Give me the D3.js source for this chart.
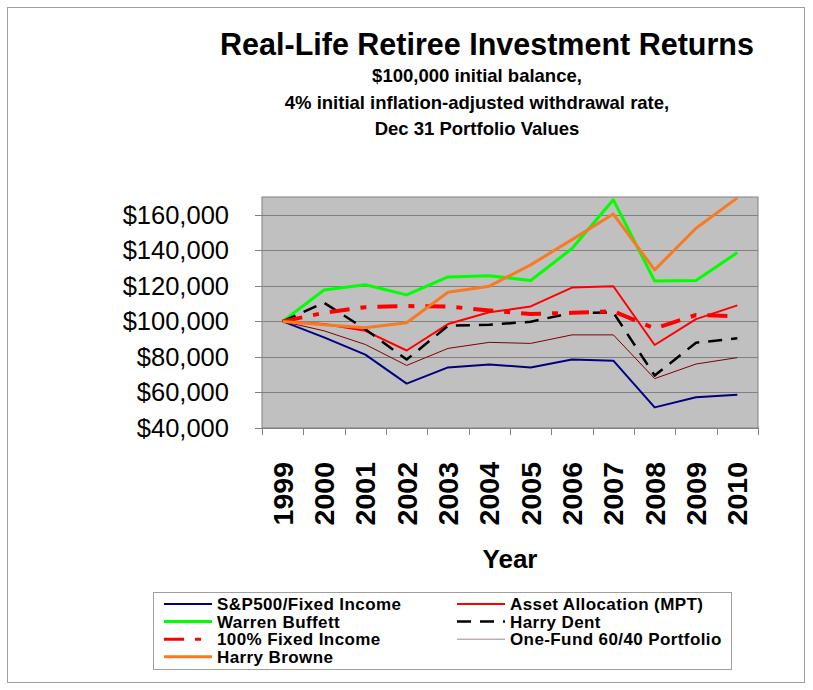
<!DOCTYPE html>
<html lang="en">

<head>
	<meta charset="UTF-8">
	<title>Real-Life Retiree Investment Returns</title>

	<style>
		body {
			margin: 0;
			background: #ffffff;
		}

		text {
			font-family: Arial, "Liberation Sans", sans-serif;
		}
	</style>

	<script src="https://d3js.org/d3.v7.min.js"></script>

</head>

<body>

	<script type="text/javascript">
		let width = 813;
		let height = 690;

		// chart data
		const years = ["1999", "2000", "2001", "2002", "2003", "2004", "2005", "2006", "2007", "2008", "2009", "2010"];
		const yTicks = [40000, 60000, 80000, 100000, 120000, 140000, 160000];

		const spFixed = [100000, 91000, 81300, 65000, 74100, 75800, 74100, 78500, 77900, 51600, 57300, 58700];
		const assetAlloc = [100000, 98500, 94700, 83600, 98500, 105100, 108400, 119000, 119800, 86700, 101300, 109000];
		const buffett = [100000, 117700, 120600, 114900, 125000, 125700, 123000, 141000, 168400, 122700, 123000, 138700];
		const dent = [100000, 110500, 95600, 78500, 97500, 98100, 99800, 104800, 105000, 69500, 88000, 90500];
		const fixedIncome = [100000, 104800, 108000, 108600, 108400, 106100, 104200, 104800, 105700, 96000, 103600, 102900];
		const oneFund = [100000, 94700, 87000, 75200, 84800, 88200, 87600, 92400, 92400, 67800, 76000, 79600];
		const browne = [100000, 98100, 96400, 99200, 116400, 119800, 131800, 146000, 160400, 129000, 152400, 169500];

		const seriesNames = ["S&P500/Fixed Income", "Asset Allocation (MPT)", "Warren Buffett", "Harry Dent",
			"100% Fixed Income", "One-Fund 60/40 Portfolio", "Harry Browne"];
		const seriesValues = [spFixed, assetAlloc, buffett, dent, fixedIncome, oneFund, browne];

		// line styles for each series (same order as names)
		const styles = [
			{ color: "#000080", w: 2, dash: null },
			{ color: "#ff0000", w: 2, dash: null },
			{ color: "#00ff00", w: 3, dash: null },
			{ color: "#000000", w: 2.5, dash: "14,9" },
			{ color: "#ff0000", w: 4, dash: "20,11,6,11" },
			{ color: "#800000", w: 1, dash: null },
			{ color: "#f87a22", w: 3, dash: null }
		];

		const series = seriesNames.map((name, i) => ({ name: name, values: seriesValues[i], style: styles[i] }));

		const svg = d3.select("body").append("svg")
			.attr("width", width)
			.attr("height", height);

		// outer chart frame
		svg.append("rect")
			.attr("x", 7.5)
			.attr("y", 7.5)
			.attr("width", 797)
			.attr("height", 675)
			.style("fill", "white")
			.style("stroke", "#a0a0a0")
			.style("stroke-width", 1);

		const plot = { left: 262, right: 758, top: 197, bottom: 428 };

		const x = d3.scaleBand()
			.domain(years)
			.range([plot.left, plot.right])
			.padding(0);

		const y = d3.scaleLinear()
			.domain([40000, 170000])
			.range([plot.bottom, plot.top]);

		// plot area
		svg.append("rect")
			.attr("x", plot.left)
			.attr("y", plot.top)
			.attr("width", plot.right - plot.left)
			.attr("height", plot.bottom - plot.top)
			.style("fill", "#c0c0c0")
			.style("stroke", "#808080")
			.style("stroke-width", 1);

		// gridlines
		svg.selectAll(".grid")
			.data(yTicks)
			.join("line")
			.attr("class", "grid")
			.attr("x1", plot.left - 7)
			.attr("x2", plot.right)
			.attr("y1", d => Math.round(y(d)) + 0.5)
			.attr("y2", d => Math.round(y(d)) + 0.5)
			.style("stroke", "#808080")
			.style("stroke-width", 1);

		// y axis labels
		svg.selectAll(".ylab")
			.data(yTicks)
			.join("text")
			.attr("class", "ylab")
			.attr("x", 229)
			.attr("y", d => y(d))
			.attr("dy", "0.35em")
			.attr("text-anchor", "end")
			.style("font-size", "25.5px")
			.text(d => "$" + d3.format(",")(d));

		// x axis with ticks on the category borders
		const xAxis = svg.append("g")
			.attr("transform", `translate(0,${plot.bottom})`);

		xAxis.selectAll(".xtick")
			.data(years.concat(["end"]))
			.join("line")
			.attr("class", "xtick")
			.attr("x1", (d, i) => Math.round(plot.left + i * x.bandwidth()) + 0.5)
			.attr("x2", (d, i) => Math.round(plot.left + i * x.bandwidth()) + 0.5)
			.attr("y1", 0)
			.attr("y2", 7)
			.style("stroke", "#808080");

		// rotated year labels
		svg.selectAll(".xlab")
			.data(years)
			.join("text")
			.attr("class", "xlab")
			.attr("transform", d => `translate(${x(d) + x.bandwidth() / 2},462) rotate(-90)`)
			.attr("dy", "0.35em")
			.attr("text-anchor", "end")
			.style("font-size", "28.5px")
			.style("font-weight", "bold")
			.text(d => d);

		svg.append("text")
			.attr("x", 510)
			.attr("y", 568)
			.attr("text-anchor", "middle")
			.style("font-size", "26px")
			.style("font-weight", "bold")
			.text("Year");

		// titles
		svg.append("text")
			.attr("x", 487)
			.attr("y", 55)
			.attr("text-anchor", "middle")
			.style("font-size", "30.5px")
			.style("font-weight", "bold")
			.text("Real-Life Retiree Investment Returns");

		const subtitles = ["$100,000 initial balance,", "4% initial inflation-adjusted withdrawal rate,", "Dec 31 Portfolio Values"];
		svg.selectAll(".sub")
			.data(subtitles)
			.join("text")
			.attr("class", "sub")
			.attr("x", 477)
			.attr("y", (d, i) => 82 + i * 26.5)
			.attr("text-anchor", "middle")
			.style("font-size", "18.5px")
			.style("font-weight", "bold")
			.text(d => d);

		// lines
		const line = d3.line()
			.x((d, i) => x(years[i]) + x.bandwidth() / 2)
			.y(d => y(d));

		svg.selectAll(".series")
			.data(series)
			.join("path")
			.attr("class", "series")
			.attr("d", d => line(d.values))
			.style("fill", "none")
			.style("stroke", d => d.style.color)
			.style("stroke-width", d => d.style.w)
			.style("stroke-dasharray", d => d.style.dash)
			.style("stroke-linejoin", "round");

		// legend
		const legend = svg.append("g");

		legend.append("rect")
			.attr("x", 153.5)
			.attr("y", 592.5)
			.attr("width", 578)
			.attr("height", 77)
			.style("fill", "white")
			.style("stroke", "#a0a0a0")
			.style("stroke-width", 1);

		const items = legend.selectAll(".item")
			.data(series)
			.join("g")
			.attr("class", "item")
			.attr("transform", (d, i) => `translate(${i % 2 === 0 ? 164 : 457},${604 + Math.floor(i / 2) * 17.6})`);

		items.append("line")
			.attr("x1", 0)
			.attr("x2", 48)
			.attr("y1", 0)
			.attr("y2", 0)
			.style("stroke", d => d.name === "One-Fund 60/40 Portfolio" ? "#a08888" : d.style.color)
			.style("stroke-width", d => Math.min(d.style.w, 3))
			.style("stroke-dasharray", d => d.style.dash);

		items.append("text")
			.attr("x", 53)
			.attr("y", 0)
			.attr("dy", "0.35em")
			.style("font-size", "17px")
			.style("font-weight", "bold")
			.style("letter-spacing", "0.4px")
			.text(d => d.name);
	</script>

</body>

</html>
